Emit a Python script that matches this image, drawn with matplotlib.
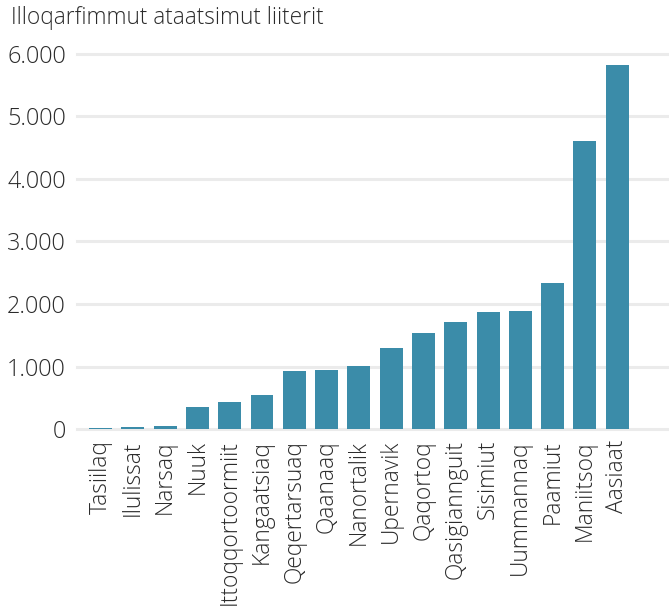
import matplotlib
matplotlib.use("Agg")
import matplotlib.pyplot as plt
from matplotlib.ticker import FuncFormatter

# data
towns = ["Tasiilaq", "Ilulissat", "Narsaq", "Nuuk", "Ittoqqortoormiit",
         "Kangaatsiaq", "Qeqertarsuaq", "Qaanaaq", "Nanortalik", "Upernavik",
         "Qaqortoq", "Qasigiannguit", "Sisimiut", "Uummannaq", "Paamiut",
         "Maniitsoq", "Aasiaat"]
litres = [10, 30, 50, 350, 430, 545, 930, 945, 1010, 1290,
          1530, 1705, 1865, 1895, 2330, 4610, 5830]
yticks = [0, 1000, 2000, 3000, 4000, 5000, 6000]
title = "Illoqarfimmut ataatsimut liiterit"

plt.rcParams["font.family"] = ["Open Sans", "DejaVu Sans"]
bar_color = "#3b8ca9"
text_color = "#2b2b2b"

fig = plt.figure(figsize=(6.69, 6.08), dpi=100)
ax = fig.add_axes([0.115, 0.2944, 0.882, 0.6168])

x = range(len(towns))
ax.bar(x, litres, width=0.71, color=bar_color, zorder=3)

ax.set_ylim(0, 6000)
ax.set_xlim(-0.73, len(towns) + 0.54)
ax.set_yticks(yticks)
ax.yaxis.set_major_formatter(FuncFormatter(lambda v, p: f"{int(v):,}".replace(",", ".")))
for t in yticks:
    ax.axhline(t, color="#ebebeb", lw=2.2, zorder=1, clip_on=False)

ax.set_xticks(list(x))
ax.set_xticklabels(towns, rotation=90, fontsize=16.4, color=text_color,
                   fontweight="light")
ax.tick_params(axis="x", length=0, pad=8)
ax.tick_params(axis="y", length=0, pad=8, labelsize=16.8, labelcolor=text_color)
for lab in ax.get_yticklabels():
    lab.set_fontweight("light")
for s in ax.spines.values():
    s.set_visible(False)

fig.text(0.016, 0.970, title, fontsize=16.3, color=text_color,
         fontweight="light", va="center", ha="left")

fig.savefig("out.png", dpi=100)
